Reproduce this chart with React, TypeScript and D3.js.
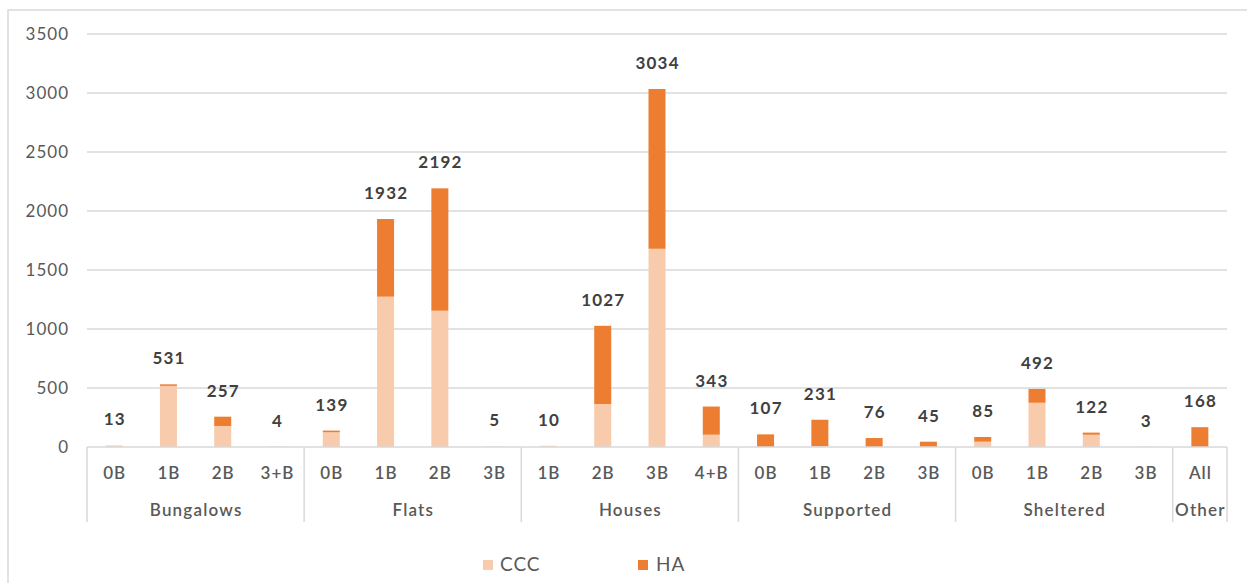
import React from "react";
import * as d3 from "d3";

const W = 1247;
const H = 583;

const groups = ["Bungalows", "Flats", "Houses", "Supported", "Sheltered", "Other"];
const catGroup = [
  "Bungalows", "Bungalows", "Bungalows", "Bungalows",
  "Flats", "Flats", "Flats", "Flats",
  "Houses", "Houses", "Houses", "Houses",
  "Supported", "Supported", "Supported", "Supported",
  "Sheltered", "Sheltered", "Sheltered", "Sheltered",
  "Other",
];
const catLabel = [
  "0B", "1B", "2B", "3+B",
  "0B", "1B", "2B", "3B",
  "1B", "2B", "3B", "4+B",
  "0B", "1B", "2B", "3B",
  "0B", "1B", "2B", "3B",
  "All",
];
const ccc = [13, 518, 178, 4, 125, 1274, 1155, 5, 10, 364, 1680, 104, 0, 8, 0, 0, 45, 375, 104, 3, 0];
const ha = [0, 13, 79, 0, 14, 658, 1037, 0, 0, 663, 1354, 239, 107, 223, 76, 45, 40, 117, 18, 0, 168];
const yTicks = [0, 500, 1000, 1500, 2000, 2500, 3000, 3500];
const seriesKeys = ["CCC", "HA"];
const seriesColors = ["#F8CBAD", "#ED7D31"];

const FONT = "Lato, 'Open Sans', sans-serif";
const TEXT = "#595959";
const GRID = "#d9d9d9";

export default function App() {
  const left = 87;
  const right = 1227;
  const top = 34;
  const bottom = 447;

  const rows = catLabel.map((c, i) => ({ i, CCC: ccc[i], HA: ha[i] }));
  const stacked = d3.stack<any>().keys(seriesKeys)(rows);

  const x = d3
    .scaleBand<number>()
    .domain(d3.range(catLabel.length))
    .range([left, right])
    .padding(0);
  const y = d3.scaleLinear().domain([0, 3500]).range([bottom, top]);
  const color = d3.scaleOrdinal<string, string>().domain(seriesKeys).range(seriesColors);

  const barW = 17;
  const cx = (i: number) => (x(i) as number) + x.bandwidth() / 2;

  // group extents
  const groupSpans = groups.map((g) => {
    const idx = catGroup.map((d, i) => (d === g ? i : -1)).filter((i) => i >= 0);
    const x0 = x(idx[0]) as number;
    const x1 = (x(idx[idx.length - 1]) as number) + x.bandwidth();
    return { g, x0, x1 };
  });

  return (
    <svg
      width={W}
      height={H}
      style={{ position: "fixed", left: 0, top: 0, background: "#fff" }}
    >
      <rect x={8} y={10} width={W} height={H} fill="#fff" stroke={GRID} strokeWidth={1.5} />
      <g>
        {yTicks.map((t) => (
          <g key={t}>
            {t > 0 && (
              <line x1={left} x2={right} y1={y(t)} y2={y(t)} stroke={GRID} strokeWidth={1.5} />
            )}
            <text
              x={69}
              y={y(t)}
              dy="0.35em"
              textAnchor="end"
              fontFamily={FONT}
              fontSize={17}
              letterSpacing={1}
              fill={TEXT}
            >
              {t}
            </text>
          </g>
        ))}
      </g>
      <g>
        {stacked.map((s) =>
          s.map((d, i) => (
            <rect
              key={`${s.key}-${i}`}
              x={cx(i) - barW / 2}
              y={y(d[1])}
              width={barW}
              height={Math.max(0, y(d[0]) - y(d[1]))}
              fill={color(s.key)}
            />
          ))
        )}
      </g>
      <g
        fontFamily={FONT}
        fontSize={17}
        fontWeight={700}
        letterSpacing={1.2}
        fill="#404040"
        textAnchor="middle"
      >
        {rows.map((r, i) => (
          <text key={i} x={cx(i) + 0.6} y={y(r.CCC + r.HA) - 20}>
            {r.CCC + r.HA}
          </text>
        ))}
      </g>
      <g>
        <line x1={left} x2={right} y1={bottom} y2={bottom} stroke={GRID} strokeWidth={1.5} />
        {[left, ...groupSpans.map((s) => s.x1)].map((v, i) => (
          <line key={i} x1={v} x2={v} y1={bottom} y2={522} stroke={GRID} strokeWidth={1.5} />
        ))}
        {catLabel.map((c, i) => (
          <text
            key={i}
            x={cx(i) + 0.5}
            y={479}
            textAnchor="middle"
            fontFamily={FONT}
            fontSize={17}
            fontWeight={600}
            letterSpacing={1}
            fill={TEXT}
          >
            {c}
          </text>
        ))}
        {groupSpans.map((s) => (
          <text
            key={s.g}
            x={(s.x0 + s.x1) / 2 + 0.6}
            y={516}
            textAnchor="middle"
            fontFamily={FONT}
            fontSize={17}
            fontWeight={600}
            letterSpacing={1.2}
            fill={TEXT}
          >
            {s.g}
          </text>
        ))}
      </g>
      <g fontFamily={FONT} fontSize={19} letterSpacing={1} fill={TEXT}>
        <rect x={483} y={560} width={10} height={10} fill={seriesColors[0]} />
        <text x={500} y={571}>CCC</text>
        <rect x={638} y={560} width={10} height={10} fill={seriesColors[1]} />
        <text x={656} y={571}>HA</text>
      </g>
    </svg>
  );
}
